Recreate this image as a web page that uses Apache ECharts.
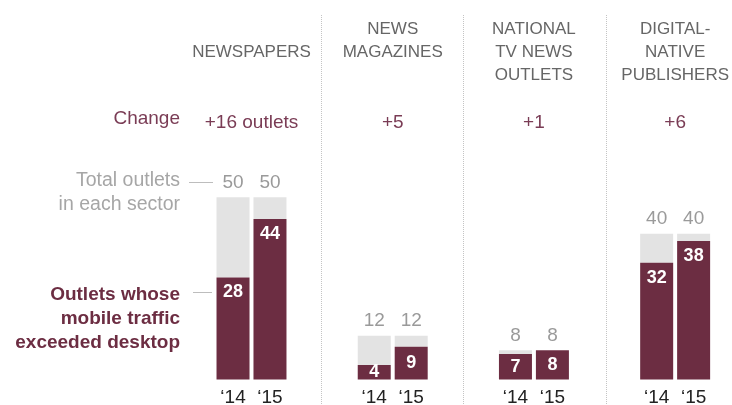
<!DOCTYPE html>
<html><head><meta charset="utf-8">
<script src="https://cdn.jsdelivr.net/npm/echarts@6/dist/echarts.min.js"></script>
<style>html,body{margin:0;padding:0;background:#fff}#c{width:732px;height:405px}</style>
</head><body><div id="c"></div>
<script>
const sectors = [["", "NEWSPAPERS", ""], ["NEWS", "MAGAZINES", ""], ["NATIONAL", "TV NEWS", "OUTLETS"], ["DIGITAL-", "NATIVE", "PUBLISHERS"]];
const changes = ["+16 outlets", "+5", "+1", "+6"];
const years = ["\u201814", "\u201815"];
const total14 = [50, 12, 8, 40];
const total15 = [50, 12, 8, 40];
const mobile14 = [28, 4, 7, 32];
const mobile15 = [44, 9, 8, 38];

const FONT = "Liberation Sans, Arial, sans-serif";
const MAROON = "#6c2d42";
const GRAY = "#e3e3e3";
const cats = sectors.map(s => s.join(" ").trim());

function valueSeries(vals, stack) {
  return {
    type: "bar", stack: stack, barWidth: 33, barGap: "12%", silent: true, clip: false,
    itemStyle: { color: MAROON },
    data: vals.map(v => ({
      value: v,
      label: { position: v < 10 ? "inside" : "insideTop", distance: 6 }
    })),
    label: { show: true, color: "#fff", fontWeight: "bold", fontSize: 18, fontFamily: FONT },
    z: 3
  };
}
function restSeries(tot, vals, stack) {
  return {
    type: "bar", stack: stack, barWidth: 33, barGap: "12%", silent: true, clip: false,
    itemStyle: { color: GRAY },
    data: tot.map((t, i) => t - vals[i]),
    label: { show: true, position: "top", distance: 5, color: "#9a9a9a", fontSize: 19, fontFamily: FONT,
      formatter: p => String(tot[p.dataIndex]) },
    z: 2
  };
}
function yearSeries(label, stack) {
  return {
    type: "bar", stack: stack, barWidth: 33, barGap: "12%", silent: true, clip: false,
    itemStyle: { color: "transparent" },
    data: cats.map(() => 0),
    label: { show: true, position: "bottom", distance: 9, color: "#222", fontSize: 19, fontFamily: FONT,
      formatter: () => label },
    z: 1
  };
}

const chart = echarts.init(document.getElementById("c"), null, { renderer: "canvas" });
chart.setOption({
  animation: false,
  grid: [
    { left: 251.5, right: 55, top: 15, bottom: 0, containLabel: false },
    { left: 321, right: 126, top: 15, bottom: 0, containLabel: false }
  ],
  xAxis: [
    { gridIndex: 0, type: "category", data: cats, boundaryGap: false, axisLine: { show: false }, axisTick: { show: false },
      axisLabel: { show: false }, splitLine: { show: false } },
    { gridIndex: 0, type: "category", data: cats, boundaryGap: false, position: "top", axisLine: { show: false, onZero: false },
      axisTick: { show: false }, splitLine: { show: false },
      axisLabel: {
        inside: true, margin: 3, verticalAlign: "top", interval: 0,
        formatter: (v, i) => sectors[i].map(l => "{h|" + (l || " ") + "}").join("\n") + "\n{g| }\n{c|" + changes[i] + "}",
        rich: {
          h: { fontSize: 17, lineHeight: 23, color: "#666", fontFamily: FONT, align: "center" },
          g: { fontSize: 17, lineHeight: 24, fontFamily: FONT },
          c: { fontSize: 19, lineHeight: 23, color: "#7a3c55", fontFamily: FONT, align: "center" }
        }
      } },
    { gridIndex: 1, type: "value", min: 0, max: 2, interval: 1, position: "bottom",
      axisLine: { show: false, onZero: false }, axisTick: { show: false }, axisLabel: { show: false },
      splitLine: { show: true, showMinLine: true, showMaxLine: true,
        lineStyle: { type: "dotted", color: "#c4c4c4", width: 1 } } }
  ],
  yAxis: [
    { gridIndex: 0, type: "value", min: -7, max: 100, show: false, splitLine: { show: false } },
    { gridIndex: 1, type: "value", min: 0, max: 1, show: false, splitLine: { show: false } }
  ],
  series: [
    yearSeries(years[0], "a"),
    valueSeries(mobile14, "a"),
    restSeries(total14, mobile14, "a"),
    yearSeries(years[1], "b"),
    valueSeries(mobile15, "b"),
    restSeries(total15, mobile15, "b")
  ],
  graphic: [
    { type: "group", children: [
      { type: "text", x: 180, y: 109, style: { text: "Change", fontSize: 19, fontFamily: FONT, fill: "#7a3c55", align: "right" } },
      { type: "text", x: 180, y: 169, style: { text: "Total outlets\nin each sector", fontSize: 19.5, lineHeight: 24, fontFamily: FONT, fill: "#a6a6a6", align: "right" } },
      { type: "line", shape: { x1: 189, y1: 182.5, x2: 213, y2: 182.5 }, style: { stroke: "#bdbdbd", lineWidth: 1 } },
      { type: "text", x: 180, y: 283, style: { text: "Outlets whose\nmobile traffic\nexceeded desktop", fontSize: 19, lineHeight: 24, fontWeight: "bold", fontFamily: FONT, fill: MAROON, align: "right" } },
      { type: "line", shape: { x1: 193, y1: 292.5, x2: 212, y2: 292.5 }, style: { stroke: "#bdbdbd", lineWidth: 1 } }
    ] }
  ]
});
</script></body></html>
